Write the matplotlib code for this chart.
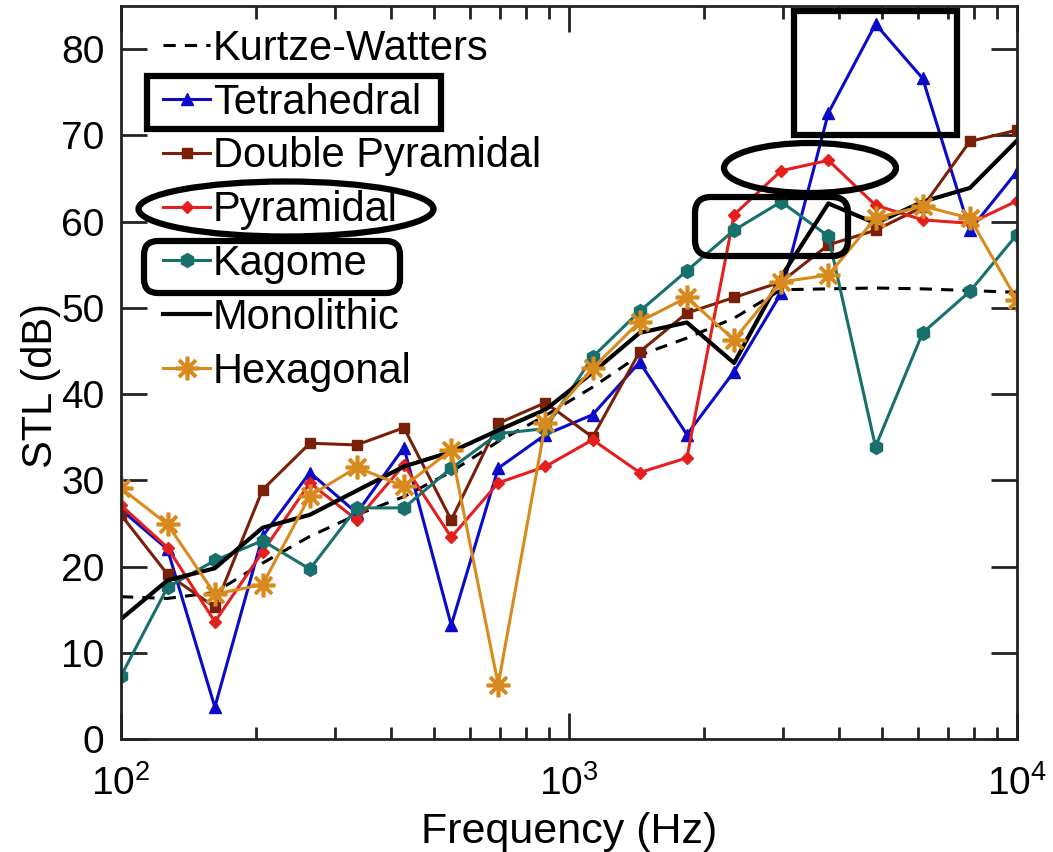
import matplotlib
matplotlib.use("Agg")
import matplotlib.pyplot as plt
from matplotlib.patches import Rectangle, Ellipse, FancyBboxPatch
from matplotlib.transforms import Affine2D
from matplotlib.ticker import LogLocator, NullFormatter

plt.rcParams['font.family'] = ['Liberation Sans', 'DejaVu Sans']
plt.rcParams['mathtext.fontset'] = 'custom'
plt.rcParams['mathtext.rm'] = 'Liberation Sans'
plt.rcParams['mathtext.it'] = 'Liberation Sans:italic'

# ---- data ----
freq = [100, 127, 162, 207, 264, 336, 428, 546, 695, 886,
        1129, 1438, 1833, 2336, 2976, 3793, 4833, 6158, 7848, 10000]

kurtze = [16.5, 16.3, 17.0, 20.4, 23.5, 26.0, 28.1, 31.0, 34.5, 37.5,
          40.8, 44.5, 46.5, 48.8, 52.1, 52.2, 52.3, 52.2, 52.0, 51.8]
tetrahedral = [26.6, 22.0, 3.7, 23.5, 30.9, 26.2, 33.8, 13.2, 31.4, 35.3,
               37.6, 43.7, 35.3, 42.6, 51.7, 72.6, 82.9, 76.6, 59.0, 65.8]
double_pyr = [26.0, 19.1, 15.3, 28.9, 34.3, 34.1, 36.1, 25.4, 36.6, 39.0,
              35.0, 44.9, 49.4, 51.2, 53.0, 57.3, 59.0, 61.7, 69.3, 70.6]
pyramidal = [27.1, 22.2, 13.6, 21.7, 29.7, 25.4, 31.8, 23.4, 29.7, 31.6,
             34.7, 30.9, 32.6, 60.8, 65.9, 67.1, 61.9, 60.2, 59.8, 62.4]
kagome = [7.3, 17.6, 20.7, 23.0, 19.7, 26.8, 26.8, 31.4, 35.4, 36.0,
          44.3, 49.6, 54.3, 59.0, 62.3, 58.3, 33.9, 47.1, 51.9, 58.5]
monolithic = [13.9, 18.4, 19.8, 24.5, 26.0, 28.8, 31.6, 33.3, 35.8, 38.2,
              42.5, 47.1, 48.3, 43.6, 53.6, 62.1, 59.8, 62.3, 63.9, 69.4]
hexagonal = [29.1, 24.9, 16.8, 17.9, 28.2, 31.5, 29.3, 33.5, 6.3, 36.6,
             43.0, 48.4, 51.2, 46.3, 53.0, 53.8, 60.4, 61.8, 60.4, 50.9]

labels = ['Kurtze-Watters', 'Tetrahedral', 'Double Pyramidal', 'Pyramidal',
          'Kagome', 'Monolithic', 'Hexagonal']

W, H = 1053, 852
fig = plt.figure(figsize=(W / 100, H / 100), dpi=100)
ax = fig.add_axes([121 / W, 1 - 739 / H, (1017 - 121) / W, (739 - 6) / H])

lw = 2.2
ax.plot(freq, kurtze, '--', color='black', lw=2.2, dashes=(4, 3), label=labels[0])
ax.plot(freq, tetrahedral, '-^', color='#0a0ac8', lw=lw, ms=8, label=labels[1])
ax.plot(freq, double_pyr, '-s', color='#7a2008', lw=lw, ms=7, label=labels[2])
ax.plot(freq, pyramidal, '-D', color='#e51e1e', lw=lw, ms=6, label=labels[3])
ax.plot(freq, kagome, '-h', color='#17706b', lw=lw, ms=10, label=labels[4])
ax.plot(freq, monolithic, '-', color='black', lw=3.0, label=labels[5])
ax.plot(freq, hexagonal, '-', color='#d98a1c', lw=lw, marker=(8, 2, 0), ms=17,
        mew=2.6, label=labels[6])

ax.set_xscale('log')
ax.set_xlim(100, 10000)
ax.set_ylim(0, 85)
ax.set_yticks(range(0, 90, 10))
ax.xaxis.set_minor_locator(LogLocator(base=10, subs=range(2, 10)))
ax.xaxis.set_minor_formatter(NullFormatter())

for s in ax.spines.values():
    s.set_linewidth(2.0)
    s.set_color('#222222')
ax.tick_params(which='both', direction='in', top=True, right=True,
               width=2.0, color='#222222')
ax.tick_params(which='major', length=19, labelsize=28, pad=12)
ax.tick_params(which='minor', length=9)
ax.tick_params(axis='x', which='major', pad=19)

ax.set_xlabel('Frequency (Hz)', fontsize=31, labelpad=6)
ax.set_ylabel('STL (dB)', fontsize=30)
ax.yaxis.set_label_coords(-0.067, 0.482)

leg = ax.legend(loc='upper left', bbox_to_anchor=(163 / W, 1 - 29 / H),
                bbox_transform=fig.transFigure, frameon=False, fontsize=30,
                handlelength=1.13, handletextpad=0.07, labelspacing=0.33,
                borderpad=0, borderaxespad=0)

# hand-drawn highlight shapes (pixel coords, origin top-left)
pix = Affine2D().scale(1, -1).translate(0, H)
alw = 4.5
shapes = [
    Rectangle((147, 76), 294, 53, fill=False, lw=alw, ec='black', transform=pix),
    Ellipse((286, 209), 295, 55, fill=False, lw=alw, ec='black', transform=pix),
    FancyBboxPatch((150, 247), 244, 40, boxstyle='round,pad=6,rounding_size=14',
                   fill=False, lw=alw, ec='black', transform=pix),
    Rectangle((794, 11), 163, 124, fill=False, lw=alw, ec='black', transform=pix),
    Ellipse((810, 168), 172, 50, fill=False, lw=alw, ec='black', transform=pix),
    FancyBboxPatch((702, 204), 139, 45, boxstyle='round,pad=7,rounding_size=16',
                   fill=False, lw=alw, ec='black', transform=pix),
]
for p in shapes:
    fig.add_artist(p)

fig.savefig('out.png', dpi=100)
